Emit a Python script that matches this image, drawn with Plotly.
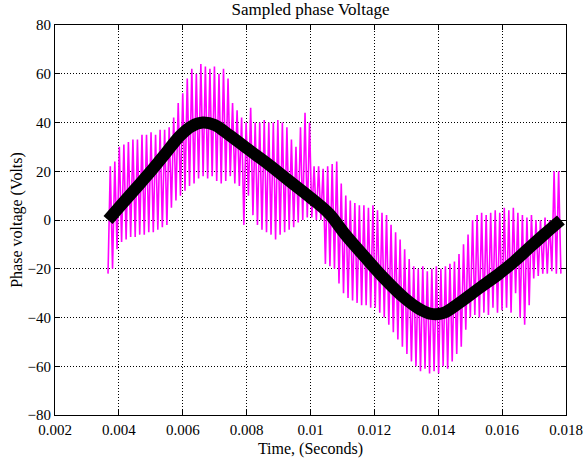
import numpy as np
import plotly.graph_objects as go

# ---- data ----
ref_t = [0.00366, 0.00403, 0.00450, 0.00497, 0.00544, 0.00591, 0.00628, 0.00663,
         0.00700, 0.00747, 0.00809, 0.00872, 0.00934, 0.00997, 0.01059, 0.01106,
         0.01169, 0.01231, 0.01294, 0.01341, 0.01378, 0.01419, 0.01466, 0.01528,
         0.01591, 0.01638, 0.01684, 0.01731, 0.01784]
ref_v = [0, 5.5, 12.5, 19.5, 27, 34.5, 38.5, 40,
         39, 34.7, 28.6, 22.5, 16, 9.5, 2.5, -5.5,
         -15, -24, -32, -36.5, -38.5, -38, -34, -28,
         -22, -17, -11.5, -6, 0]

# sampled (switched) phase voltage: low / high value of each switching cycle
sw_low = [-22, -20, -12, -9, -8, -7, -7, -6, -6, -5,
          -5, -4, -3, -2, 5, 8, 10, 12, 14, 15,
          17, 18, 17, 18, 16, 15, 16, 18, 15, 14,
          -2, 10, 2, -2, -4, -5, -6, -8, -6, -5,
          -4, -3, -1, 0, 1, 1, 0, 0, -18, -19,
          -20, -26, -30, -32, -33, -34, -35, -35, -36, -36,
          -38, -40, -43, -46, -49, -52, -55, -58, -60, -62,
          -61, -63, -62, -63, -60, -61, -58, -55, -52, -45,
          -40, -39, -40, -38, -39, -36, -38, -37, -36, -38,
          -30, -40, -43, -35, -24, -23, -22, -22, -21, -22]
sw_high = [22, 24, 30, 31, 32, 33, 33, 35, 35, 36,
           35, 37, 37, 38, 42, 48, 52, 58, 62, 60,
           64, 63, 62, 63, 60, 62, 58, 48, 45, 42,
           40, 46, 40, 40, 41, 40, 40, 41, 40, 38,
           33, 30, 38, 44, 40, 22, 22, 21, 22, 23,
           24, 15, 10, 8, 7, 6, 6, 5, 6, 4,
           3, 2, -2, -5, -8, -12, -16, -19, -20, -19,
           -21, -20, -19, -20, -19, -18, -17, -14, -10, -6,
           0, 2, 3, 2, 3, 4, 3, 5, 4, 5,
           3, 2, 1, 2, 0, 0, 1, 0, 20, 20]
sw_t_start, sw_t_end = 0.00366, 0.01784

x_ticks = [0.002, 0.004, 0.006, 0.008, 0.01, 0.012, 0.014, 0.016, 0.018]
x_tick_text = ["0.002", "0.004", "0.006", "0.008", "0.01", "0.012", "0.014", "0.016", "0.018"]
y_ticks = [-80, -60, -40, -20, 0, 20, 40, 60, 80]

# ---- build the switched waveform (alternating low/high samples) ----
sw_v = []
for lo, hi in zip(sw_low, sw_high):
    sw_v.extend([lo, hi])
sw_v.append(sw_low[-1])
sw_t = np.linspace(sw_t_start, sw_t_end, len(sw_v))

FONT = "Liberation Serif"

fig = go.Figure()
fig.add_trace(go.Scatter(x=sw_t, y=sw_v, mode="lines",
                         line=dict(color="#FF00FF", width=1.6),
                         showlegend=False, hoverinfo="skip"))
fig.add_trace(go.Scatter(x=ref_t, y=ref_v, mode="lines",
                         line=dict(color="black", width=12, shape="spline"),
                         showlegend=False))

axis_common = dict(showline=True, linecolor="black", linewidth=1, mirror="ticks",
                   ticks="inside", ticklen=5, tickcolor="black",
                   showgrid=True, gridcolor="black", griddash="1px,2px", gridwidth=1,
                   zeroline=False, automargin=False,
                   tickfont=dict(family=FONT, size=15, color="black"))

fig.update_layout(
    width=585, height=458,
    margin=dict(l=55, r=19, t=25, b=43),
    paper_bgcolor="white", plot_bgcolor="white",
    title=dict(text="Sampled phase Voltage", x=0.5, xanchor="center", xref="paper",
               y=1 - 9 / 458, yanchor="middle", yref="container",
               font=dict(family=FONT, size=17, color="black")),
    xaxis=dict(range=[0.002, 0.018], tickvals=x_ticks, ticktext=x_tick_text,
               ticklabelstandoff=1,
               title=dict(text="Time, (Seconds)", standoff=5,
                          font=dict(family=FONT, size=16, color="black")),
               **axis_common),
    yaxis=dict(range=[-80, 80], tickvals=y_ticks,
               title=dict(text="Phase voltage (Volts)", standoff=0,
                          font=dict(family=FONT, size=16, color="black")),
               **axis_common),
)

fig.write_html("out.html", config={"displayModeBar": False},
               post_script="document.body.style.margin='0';document.body.style.overflow='hidden';")
